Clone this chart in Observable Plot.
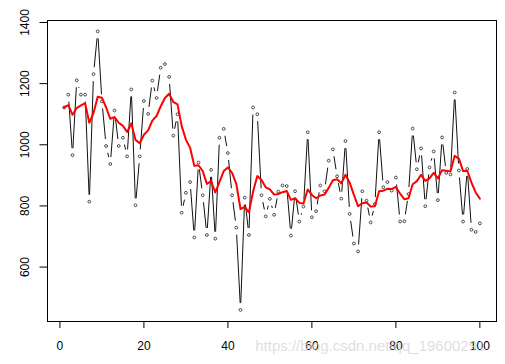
<!DOCTYPE html>
<html><head><meta charset="utf-8">
<script src="https://cdn.jsdelivr.net/npm/d3@7"></script>
<script src="https://cdn.jsdelivr.net/npm/@observablehq/plot@0.6"></script>
<style>body{margin:0;background:#fff}svg{display:block}</style>
</head><body><div id="chart"></div>
<script>
const xIndex = Array.from({length: 100}, (_, i) => i + 1);
const values = [
1122,1164,966,1211,1164,1164,814,1231,1371,1142,
996,937,1112,996,1023,962,1181,802,962,1143,
1101,1210,1153,1252,1264,1222,1030,1100,778,843,
878,697,942,835,705,918,693,1023,1052,973,
835,729,460,827,705,1122,1100,835,766,823,
771,847,867,865,703,848,749,798,1041,763,
783,867,848,948,985,897,824,1012,774,677,
651,848,817,746,806,1041,861,878,850,893,
749,750,839,1053,920,988,799,926,978,819,
1024,908,903,1171,916,749,921,722,715,743];
const smooth = [
1122,1130,1098,1120,1129,1136,1072,1104,1157,1154,
1122,1085,1091,1072,1062,1042,1070,1016,1005,1033,
1047,1079,1094,1126,1153,1167,1140,1132,1061,1017,
990,931,933,914,872,881,844,879,914,926,
908,872,790,797,779,847,898,885,861,854,
837,839,845,849,820,825,810,808,854,836,
825,834,837,859,884,887,874,902,876,836,
799,809,811,798,799,848,850,856,855,862,
840,822,825,871,881,902,882,890,908,890,
917,915,913,964,955,914,915,876,844,824];
const xTicks = [0, 20, 40, 60, 80, 100];
const yTicks = [600, 800, 1000, 1200, 1400];
const watermark = ["https://blog.csdn.net/qq_19600291"];

const W = 505, H = 364, mL = 47, mR = 9, mT = 20, mB = 43;
const xDom = [-2.96, 103.96], yDom = [422, 1406.5];
const kx = (W - mL - mR) / (xDom[1] - xDom[0]);
const ky = (H - mT - mB) / (yDom[1] - yDom[0]);
const gap = 7;
const segs = [];
for (let i = 0; i < values.length - 1; i++) {
  const x1 = xIndex[i], y1 = values[i], x2 = xIndex[i + 1], y2 = values[i + 1];
  const L = Math.hypot((x2 - x1) * kx, (y2 - y1) * ky);
  if (L > 2 * gap) {
    const t = gap / L;
    segs.push({x1: x1 + (x2 - x1) * t, y1: y1 + (y2 - y1) * t,
               x2: x2 - (x2 - x1) * t, y2: y2 - (y2 - y1) * t});
  }
}

const chart = Plot.plot({
  width: W, height: H,
  marginLeft: mL, marginRight: mR, marginTop: mT, marginBottom: mB,
  style: {fontFamily: "'Liberation Sans', Arial, sans-serif", fontSize: "12px", background: "#fff"},
  x: {domain: xDom},
  y: {domain: yDom},
  marks: [
    Plot.frame({stroke: "#000"}),
    Plot.axisX({ticks: xTicks, tickSize: 7, tickFormat: () => "", label: null, stroke: "#000"}),
    Plot.axisY({ticks: yTicks, tickSize: 7.5, tickFormat: () => "", label: null, stroke: "#000"}),
    Plot.text(xTicks, {x: d => d, frameAnchor: "bottom", dy: 25, lineAnchor: "middle", text: d => String(d), fontSize: 12, fill: "#000"}),
    Plot.text(yTicks, {y: d => d, frameAnchor: "left", dx: -22, rotate: -90, textAnchor: "middle", lineAnchor: "middle", text: d => String(d), fontSize: 12, fill: "#000"}),
    Plot.link(segs, {x1: "x1", y1: "y1", x2: "x2", y2: "y2", stroke: "#111", strokeWidth: 1}),
    Plot.dot(xIndex, {x: d => d, y: (d, i) => values[i], r: 1.4, stroke: "#222", strokeWidth: 0.8, fill: "none"}),
    Plot.line(xIndex, {x: d => d, y: (d, i) => smooth[i], stroke: "red", strokeWidth: 2}),
    Plot.text(watermark, {x: 46.5, frameAnchor: "bottom", dy: 25, lineAnchor: "middle", textAnchor: "start", text: d => d, fontSize: 15, fill: "#d4d4d4", fillOpacity: 0.75})
  ]
});
document.getElementById("chart").appendChild(chart);
</script>
</body></html>
